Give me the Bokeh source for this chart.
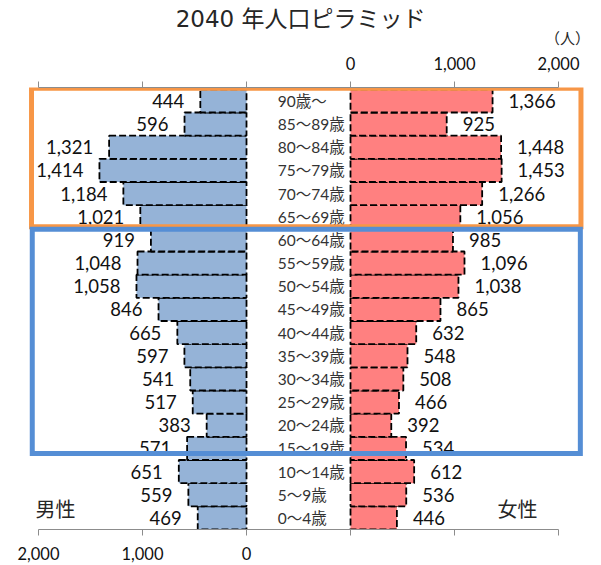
from bokeh.plotting import figure
from bokeh.layouts import column
from bokeh.models import LinearAxis, FixedTicker, Range1d
from bokeh.core.properties import value
from bokeh.embed import file_html
from bokeh.resources import INLINE

# ---- data ----
ages = ["0～4歳", "5～9歳", "10～14歳", "15～19歳", "20～24歳", "25～29歳",
        "30～34歳", "35～39歳", "40～44歳", "45～49歳", "50～54歳", "55～59歳",
        "60～64歳", "65～69歳", "70～74歳", "75～79歳", "80～84歳", "85～89歳",
        "90歳～"]
male = [469, 559, 651, 571, 383, 517, 541, 597, 665, 846, 1058, 1048, 919,
        1021, 1184, 1414, 1321, 596, 444]
female = [446, 536, 612, 534, 392, 466, 508, 548, 632, 865, 1038, 1096, 985,
          1056, 1266, 1453, 1448, 925, 1366]
tick_values = [0, 1000, 2000]
title_text = "2040 年人口ピラミッド"
unit_text = "（人）"
male_name = "男性"
female_name = "女性"

# ---- layout constants ----
GAP = 500  # half-width of the central label column, in axis units
rows = list(range(len(ages)))
male_left = [-GAP - v for v in male]
female_right = [GAP + v for v in female]

W = 600
HEAD_H = 50
x_range = Range1d(-2865.4, 2903.8)

# header with title and unit
head = figure(width=W, height=HEAD_H, x_range=x_range, y_range=Range1d(0, HEAD_H),
              output_backend="svg", toolbar_location=None,
              x_axis_location=None, y_axis_location=None,
              min_border=0)
head.outline_line_color = None
head.xgrid.visible = False
head.ygrid.visible = False
head.text(x=[20], y=[HEAD_H - 18], text=[title_text], text_align="center",
          text_baseline="middle", text_font=value("DejaVu Sans, Noto Sans CJK JP"),
          text_font_size="23px", text_color="#262626")
head.text(x=[2586], y=[HEAD_H - 37], text=[unit_text], text_align="center",
          text_baseline="middle", text_font=value("Noto Sans CJK JP"),
          text_font_size="15px", text_color="#262626")

p = figure(width=W, height=565 - HEAD_H, x_range=x_range, y_range=Range1d(-0.5, 18.58),
           output_backend="svg", toolbar_location=None,
           x_axis_location=None, y_axis_location=None,
           min_border_left=0, min_border_right=0,
           min_border_top=87 - HEAD_H, min_border_bottom=36)
p.outline_line_color = None
p.xgrid.visible = False
p.ygrid.visible = False

# bars
p.hbar(y=rows, left=male_left, right=-GAP, height=1.0,
       fill_color="#95B3D7", line_color="black", line_dash="7 3", line_width=1.8)
p.hbar(y=rows, left=GAP, right=female_right, height=1.0,
       fill_color="#FF8080", line_color="black", line_dash="7 3", line_width=1.8)

# value labels
p.text(x=male_left, y=rows, text=[f"{v:,}" for v in male], x_offset=-16,
       text_align="right", text_baseline="middle",
       text_font=value("Lato"), text_font_size="18.5px", text_color="#111111")
p.text(x=female_right, y=rows, text=[f"{v:,}" for v in female], x_offset=16,
       text_align="left", text_baseline="middle",
       text_font=value("Lato"), text_font_size="18.5px", text_color="#111111")

# age labels
p.text(x=[-200] * len(ages), y=rows, text=ages,
       text_align="left", text_baseline="middle",
       text_font=value("Lato, Noto Sans CJK JP"), text_font_size="15.5px",
       text_color="#333333")

# sex labels
p.text(x=[-2336, 2106], y=[0.41, 0.41], text=[male_name, female_name],
       text_align="center", text_baseline="middle",
       text_font=value("Noto Sans CJK JP"), text_font_size="20px",
       text_color="#262626")

# highlight boxes
p.quad(left=-2567, right=2716, top=18.55, bottom=12.57, fill_color=None,
       line_color="#F79646", line_width=5, line_join="miter")
p.quad(left=-2560, right=2710, top=12.46, bottom=2.78, fill_color=None,
       line_color="#558ED5", line_width=5, line_join="miter")

# axes
male_ticks = [-GAP - v for v in tick_values]
female_ticks = [GAP + v for v in tick_values]
all_ticks = sorted(male_ticks + female_ticks)

def make_axis(labelled_ticks, labelled_values, standoff):
    ax = LinearAxis(ticker=FixedTicker(ticks=all_ticks), bounds=(-2500, 2500))
    overrides = {t: "" for t in all_ticks}
    for t, v in zip(labelled_ticks, labelled_values):
        overrides[t] = f"{v:,}"
    ax.major_label_overrides = overrides
    ax.axis_line_color = "#8C8C8C"
    ax.major_tick_line_color = "#8C8C8C"
    ax.major_tick_out = 6
    ax.major_tick_in = 0
    ax.minor_tick_line_color = None
    ax.major_label_standoff = standoff
    ax.major_label_text_font = "Lato"
    ax.major_label_text_font_size = "16.5px"
    ax.major_label_text_color = "#111111"
    return ax

p.add_layout(make_axis(male_ticks, tick_values, 11), "below")
p.add_layout(make_axis(female_ticks, tick_values, 12), "above")

layout = column(head, p, spacing=0)
open("out.html", "w").write(file_html(layout, INLINE))
